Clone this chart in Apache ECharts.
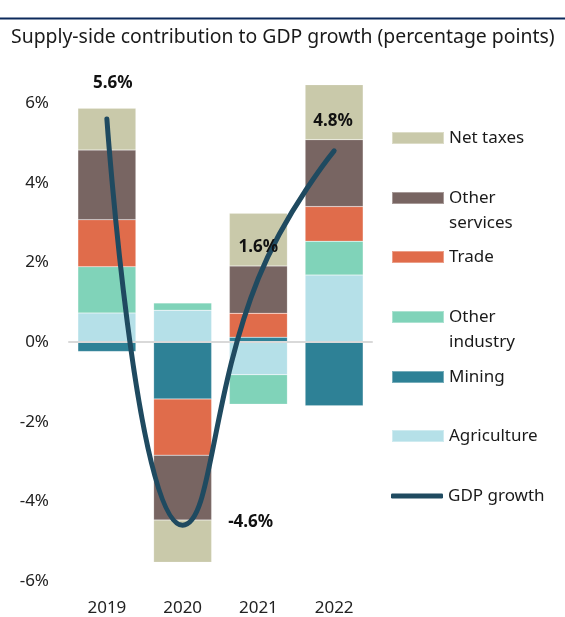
<!DOCTYPE html>
<html><head><meta charset="utf-8">
<script src="https://cdn.jsdelivr.net/npm/echarts@6/dist/echarts.min.js"></script>
<style>html,body{margin:0;padding:0;background:#fff}#c{width:565px;height:617px}</style>
</head><body><div id="c"></div>
<script>
// ---- data ----
const years = ['2019', '2020', '2021', '2022'];
const agriculture   = [0.73, 0.80, -0.82, 1.68];
const mining        = [-0.24, -1.43, 0.12, -1.60];
const otherIndustry = [1.16, 0.18, -0.74, 0.85];
const trade         = [1.18, -1.41, 0.60, 0.87];
const otherServices = [1.75, -1.63, 1.19, 1.68];
const netTaxes      = [1.05, -1.06, 1.32, 1.38];
const gdpGrowth     = [5.6, -4.6, 1.6, 4.8];
const yMin = -6, yMax = 6, yStep = 2;

const FONT = 'Noto Sans';
const colors = {
  'Agriculture': '#b5e0e8',
  'Mining': '#2e8196',
  'Other industry': '#80d3b9',
  'Trade': '#e06c4b',
  'Other services': '#786562',
  'Net taxes': '#c9c9aa',
  'GDP growth': '#1f4a60'
};
const barSeries = [
  ['Agriculture', agriculture],
  ['Mining', mining],
  ['Other industry', otherIndustry],
  ['Trade', trade],
  ['Other services', otherServices],
  ['Net taxes', netTaxes]
].map(([name, data]) => ({
  name, type: 'bar', stack: 'supply', data, barWidth: 58, z: 2, clip: false,
  itemStyle: { color: colors[name], borderColor: 'rgba(255,255,255,0.35)', borderWidth: 0.5 },
  emphasis: { disabled: true }
}));

const labelOffsets = [[6, -36], [68, -3], [0, -31], [-1, -30]];
const lineSeries = {
  name: 'GDP growth', type: 'line', smooth: true, z: 5, clip: false,
  symbol: 'circle', symbolSize: 1,
  lineStyle: { color: colors['GDP growth'], width: 5, cap: 'round' },
  itemStyle: { color: colors['GDP growth'] },
  data: gdpGrowth.map((v, i) => ({
    value: v,
    label: { show: true, position: 'inside', offset: labelOffsets[i],
      formatter: p => p.value.toFixed(1) + '%',
      fontFamily: FONT, fontSize: 17, fontWeight: 'bold', color: '#111' }
  }))
};

// legend, one per item for exact placement
const legendItems = [
  ['Net taxes', 'Net taxes', 137],
  ['Other services', ' \nOther\nservices', 197],
  ['Trade', 'Trade', 256],
  ['Other industry', ' \nOther\nindustry', 316],
  ['Mining', 'Mining', 376],
  ['Agriculture', 'Agriculture', 435],
  ['GDP growth', 'GDP growth', 495]
];
const LH = 25;
const legends = legendItems.map(([name, text, cy]) => {
  const two = text.indexOf('\n') >= 0;
  const isLine = name === 'GDP growth';
  return {
    data: [name], left: 391, top: two ? cy - LH * 1.5 + 1 : cy - LH / 2 + 1,
    padding: 0,
    itemWidth: 52, itemHeight: isLine ? 5 : 12, itemGap: 0,
    icon: isLine ? 'roundRect' : 'rect',
    selectedMode: false,
    formatter: () => text,
    textStyle: { fontFamily: FONT, fontSize: 17, color: '#1a1a1a', lineHeight: LH }
  };
});

const chart = echarts.init(document.getElementById('c'), null, { renderer: 'canvas' });
chart.setOption({
  animation: false,
  backgroundColor: '#fff',
  color: Object.values(colors),
  title: {
    text: 'Supply-side contribution to GDP growth (percentage points)',
    left: 6, top: 23,
    textStyle: { fontFamily: FONT, fontSize: 19.4, fontWeight: 'normal', color: '#1a1a1a' }
  },
  graphic: [{
    type: 'line', shape: { x1: 0, y1: 18.5, x2: 565, y2: 18.5 },
    style: { stroke: '#0c2a5c', lineWidth: 2 }
  }],
  legend: legends,
  grid: { left: 69, right: 193, top: 103, bottom: 36 },
  xAxis: {
    type: 'category', data: years, z: 3,
    axisLine: { show: true, onZero: true, lineStyle: { color: '#d9d9d9', width: 2 } },
    axisTick: { show: false },
    axisLabel: { fontFamily: FONT, fontSize: 17, color: '#222', margin: 19 }
  },
  yAxis: {
    type: 'value', min: yMin, max: yMax, interval: yStep,
    axisLine: { show: false }, axisTick: { show: false },
    splitLine: { show: false },
    axisLabel: { fontFamily: FONT, fontSize: 17, color: '#222', margin: 20,
      formatter: v => v + '%' }
  },
  series: [...barSeries, lineSeries]
});
</script>
</body></html>
